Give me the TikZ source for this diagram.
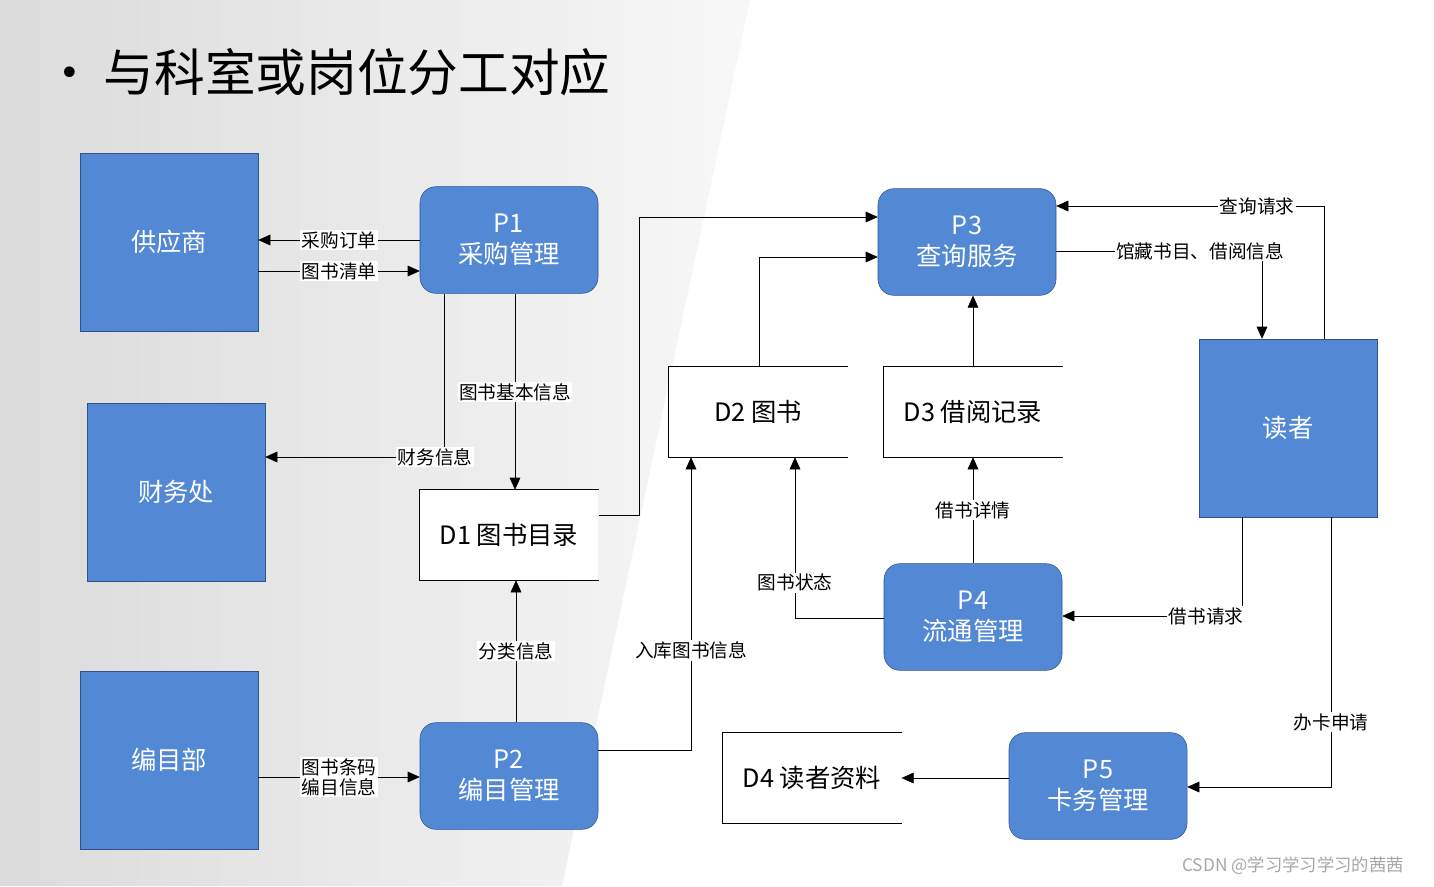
\documentclass[tikz,border=0pt]{standalone}
\usepackage{fontspec}
\setmainfont{Noto Sans CJK SC}
\usetikzlibrary{arrows.meta, positioning}
\definecolor{boxblue}{RGB}{82,136,212}
\definecolor{boxline}{RGB}{47,82,143}

\begin{document}
\begin{tikzpicture}[x=0.75pt, y=-0.75pt]

\useasboundingbox (0,0) rectangle (1434,886);
\shade[left color=gray!28, right color=gray!6] (0,0) -- (750,0) -- (562,886) -- (0,886) -- cycle;
\node[anchor=west, font=\fontsize{38}{40}\selectfont] (title) at (40,72) {•\,与科室或岗位分工对应};

\begin{scope}[every node/.style={shape=rectangle, draw=boxline, fill=boxblue,
    text=white, align=center, font=\fontsize{19}{23}\selectfont}]
    \node[minimum width=133.5pt, minimum height=133.5pt] (sup) at (169,242) {供应商};
    \node[minimum width=133.5pt, minimum height=133.5pt] (fin) at (176,492) {财务处};
    \node[minimum width=133.5pt, minimum height=133.5pt] (cat) at (169,760) {编目部};
    \node[minimum width=133.5pt, minimum height=133.5pt] (rdr) at (1288,428) {读者};
    \node[rounded corners=12pt, minimum width=133.5pt, minimum height=80pt] (p1) at (509,240) {P1\\采购管理};
    \node[rounded corners=12pt, minimum width=133.5pt, minimum height=80pt] (p2) at (509,776) {P2\\编目管理};
    \node[rounded corners=12pt, minimum width=133.5pt, minimum height=80pt] (p3) at (967,242) {P3\\查询服务};
    \node[rounded corners=12pt, minimum width=133.5pt, minimum height=80pt] (p4) at (973,617) {P4\\流通管理};
    \node[rounded corners=12pt, minimum width=133.5pt, minimum height=80pt] (p5) at (1098,786) {P5\\卡务管理};
\end{scope}

\begin{scope}[every node/.style={shape=rectangle, fill=white, minimum width=134pt,
    minimum height=67.5pt, font=\fontsize{19}{23}\selectfont}]
    \node (d1) at (509,535) {D1 图书目录};
    \node (d2) at (758,412) {D2 图书};
    \node (d3) at (973,412) {D3 借阅记录};
    \node (d4) at (812,778) {D4 读者资料};
\end{scope}
\foreach \s in {d1,d2,d3,d4}
    \draw (\s.north east) -- (\s.north west) -- (\s.south west) -- (\s.south east);

\begin{scope}[every node/.style={fill=white, inner sep=1pt, font=\fontsize{14}{16}\selectfont, align=left},
    arr/.style={draw, -{Triangle[length=9pt, width=8pt]}}]
    \path[arr] (p1.west |- 0,240) -- node {采购订单} (sup.east |- 0,240);
    \path[arr] (sup.east |- 0,271) -- node {图书清单} (p1.west |- 0,271);
    \path[arr] (515,294) -- node {图书基本信息} (d1.north -| 515,0);
    \path[arr] (444,294) -- (444,457) -- node[pos=0.05] {财务信息} (fin.east |- 0,457);
    \path[arr] (d1.east |- 0,515) -- (639,515) -- (639,217) -- (p3.west |- 0,217);
    \path[arr] (d2.north -| 759,0) -- (759,257) -- (p3.west |- 0,257);
    \path[arr] (d3.north) -- (p3.south -| d3.north);
    \path[arr] (p3.east |- 0,251) -- node[pos=0.7] {馆藏书目、借阅信息} (1262,251) -- (rdr.north -| 1262,0);
    \path[arr] (rdr.north -| 1324,0) -- (1324,206) -- node[pos=0.25] {查询请求} (p3.east |- 0,206);
    \path[arr] (p4.north -| d3.south) -- node {借书详情} (d3.south);
    \path[arr] (p4.west |- 0,618) -- (795,618) -- node[pos=0.22] {图书状态} (d2.south -| 795,0);
    \path[arr] (rdr.south -| 1242,0) -- (1242,616) -- node[pos=0.2] {借书请求} (p4.east |- 0,616);
    \path[arr] (rdr.south -| 1331,0) -- node[pos=0.76] {办卡申请} (1331,787) -- (p5.east |- 0,787);
    \path[arr] (p5.west |- d4.east) -- (d4.east);
    \path[arr] (p2.north -| 516,0) -- node {分类信息} (d1.south -| 516,0);
    \path[arr] (p2.east |- 0,750) -- (691,750) -- node[pos=0.34] {入库图书信息} (d2.south -| 691,0);
    \path[arr] (cat.east |- 0,777) -- node[font=\fontsize{14}{15}\selectfont] {图书条码\\编目信息} (p2.west |- 0,777);
\end{scope}

\node[text=gray!70, font=\fontsize{13}{15}\selectfont] (mark) at (1293,866) {CSDN @学习学习学习的茜茜};
\end{tikzpicture}
\end{document}
